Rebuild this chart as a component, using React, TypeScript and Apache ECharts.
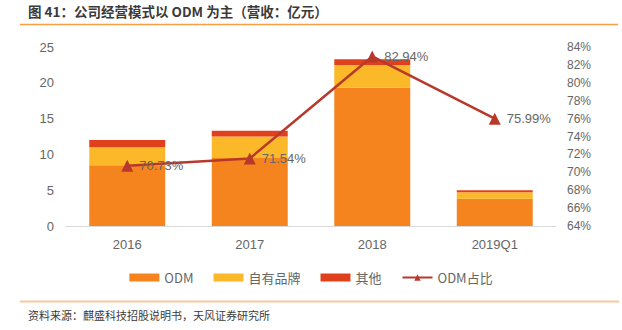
import React, { useEffect, useRef } from "react";
import * as echarts from "echarts";

const categories = ["2016", "2017", "2018", "2019Q1"];
const odm = [8.5, 9.5, 19.3, 3.8];
const ownBrand = [2.5, 3.0, 3.2, 0.9];
const others = [1.0, 0.8, 0.8, 0.3];
const odmShare = [70.73, 71.54, 82.94, 75.99];

const titleText = "图 41：公司经营模式以 ODM 为主（营收：亿元）";
const sourceText = "资料来源：麒盛科技招股说明书，天风证券研究所";

const FONT = "'Liberation Sans', 'Noto Sans CJK SC', sans-serif";
const CJK = "'Noto Sans CJK SC', sans-serif";

export default function App() {
  const ref = useRef<HTMLDivElement>(null);
  useEffect(() => {
    if (!ref.current) return;
    const chart = echarts.init(ref.current, undefined, { renderer: "svg" });
    chart.setOption({
      animation: false,
      backgroundColor: "#ffffff",
      textStyle: { fontFamily: FONT },
      grid: { left: 66, right: 66, top: 47, bottom: 104 },
      legend: {
        top: 266,
        left: "center",
        itemWidth: 30,
        itemHeight: 8,
        itemGap: 20,
        textStyle: { color: "#666666", fontSize: 13, fontFamily: CJK },
        data: [
          { name: "ODM", icon: "rect" },
          { name: "自有品牌", icon: "rect" },
          { name: "其他", icon: "rect" },
          { name: "ODM占比" },
        ],
      },
      xAxis: {
        type: "category",
        data: categories,
        axisLine: { lineStyle: { color: "#d9d9d9", width: 1 } },
        axisTick: { show: false },
        axisLabel: { color: "#666666", fontSize: 13, margin: 12 },
      },
      yAxis: [
        {
          type: "value",
          min: 0,
          max: 25,
          interval: 5,
          axisLine: { show: false },
          axisTick: { show: false },
          splitLine: { show: false },
          axisLabel: { color: "#666666", fontSize: 13, margin: 12 },
        },
        {
          type: "value",
          min: 64,
          max: 84,
          interval: 2,
          axisLine: { show: false },
          axisTick: { show: false },
          splitLine: { show: false },
          axisLabel: { color: "#666666", fontSize: 12, margin: 11, formatter: "{value}%" },
        },
      ],
      series: [
        {
          name: "ODM",
          type: "bar",
          stack: "rev",
          barWidth: "62%",
          data: odm,
          itemStyle: { color: "#F5841F" },
        },
        {
          name: "自有品牌",
          type: "bar",
          stack: "rev",
          data: ownBrand,
          itemStyle: { color: "#FBB829" },
        },
        {
          name: "其他",
          type: "bar",
          stack: "rev",
          data: others,
          itemStyle: { color: "#E0401C" },
        },
        {
          name: "ODM占比",
          type: "line",
          yAxisIndex: 1,
          data: odmShare,
          symbol: "triangle",
          symbolSize: 12,
          lineStyle: { color: "#B8392B", width: 2.5 },
          itemStyle: { color: "#B8392B" },
          label: {
            show: true,
            position: "right",
            distance: 6,
            color: "#666666",
            fontSize: 13,
            formatter: (p: any) => p.value.toFixed(2) + "%",
          },
        },
      ],
      graphic: [
        {
          type: "text",
          left: 28,
          top: 4,
          style: {
            text: titleText,
            fontSize: 13.5,
            fontWeight: "bold",
            fill: "#3a3a3a",
            fontFamily: CJK,
          },
        },
        {
          type: "line",
          shape: { x1: 20, y1: 24.5, x2: 618, y2: 24.5 },
          style: { stroke: "#F7A043", lineWidth: 1.5 },
        },
        {
          type: "line",
          shape: { x1: 20, y1: 301.5, x2: 619, y2: 301.5 },
          style: { stroke: "#F9C89B", lineWidth: 2 },
        },
        {
          type: "text",
          left: 28,
          top: 309,
          style: {
            text: sourceText,
            fontSize: 11,
            fill: "#3a3a3a",
            fontFamily: CJK,
          },
        },
      ],
    });
    return () => chart.dispose();
  }, []);
  return (
    <div
      ref={ref}
      style={{ position: "fixed", left: 0, top: 0, width: 622, height: 330 }}
    />
  );
}
